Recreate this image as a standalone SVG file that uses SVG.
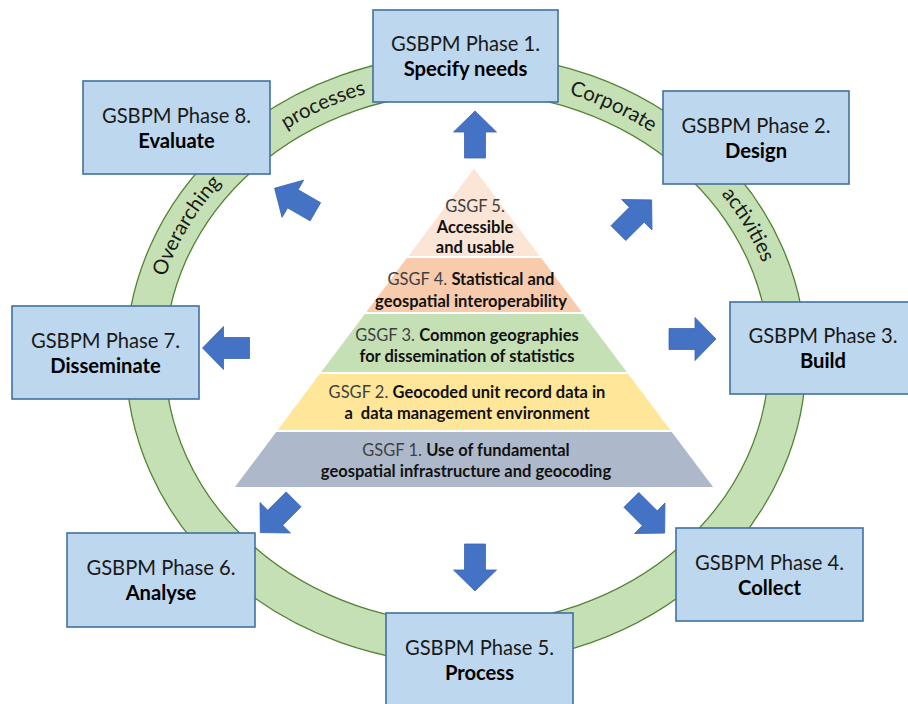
<svg xmlns="http://www.w3.org/2000/svg" width="908" height="704" viewBox="0 0 908 704">
<style>
.box{fill:#bdd7ee;stroke:#41719c;stroke-width:1.6}
.pt{font-family:Lato,"Liberation Sans",sans-serif;font-size:20.2px;fill:#1a1a1a;text-anchor:middle}
.pb{font-weight:bold;fill:#000}
.arr{fill:#4472c4;stroke:#3b65b3;stroke-width:0.8}
.ring{fill:#c5e0b4;stroke:#548235;stroke-width:1.3}
.rt{font-family:Lato,"Liberation Sans",sans-serif;font-size:20.5px;fill:#1a1a1a;text-anchor:middle}
.lay{stroke:#ffffff;stroke-width:2}
.gt{font-family:Lato,"Liberation Sans",sans-serif;font-size:16.5px;text-anchor:middle;fill:#404040}
.gb{font-weight:bold;fill:#111}
</style>
<defs>
<path id="arrow" d="M-23.5,-10.5 H2.5 V-21.5 L23.5,0 L2.5,21.5 V10.5 H-23.5 Z"/>
<path id="ringpath" d="M151.5,358.5 A315,279.5 0 1 1 781.5,358.5 A315,279.5 0 1 1 151.5,358.5"/>
</defs>
<rect width="908" height="704" fill="#ffffff"/>

<g id="ring">
<ellipse class="ring" cx="466" cy="359" rx="340" ry="305"/>
<ellipse cx="467" cy="358" rx="302" ry="266" fill="#ffffff" stroke="#548235" stroke-width="1.3"/>
<text class="rt"><textPath href="#ringpath" startOffset="7.4%">Overarching</textPath></text>
<text class="rt"><textPath href="#ringpath" startOffset="17.2%">processes</textPath></text>
<text class="rt"><textPath href="#ringpath" startOffset="33%">Corporate</textPath></text>
<text class="rt"><textPath href="#ringpath" startOffset="42.6%">activities</textPath></text>
</g>

<g id="pyramid">
<polygon class="lay" fill="#fbe5d6" points="474,167 541.6,257 406.4,257"/>
<polygon class="lay" fill="#f8cbad" points="406.4,257 541.6,257 583.6,313 364.4,313"/>
<polygon class="lay" fill="#c5e0b4" points="364.4,313 583.6,313 628.7,373 319.3,373"/>
<polygon class="lay" fill="#ffe699" points="319.3,373 628.7,373 672.2,431 275.8,431"/>
<polygon class="lay" fill="#adb9ca" points="275.8,431 672.2,431 715,488 233,488"/>
<text class="gt" x="475" y="212">GSGF 5.</text>
<text class="gt gb" x="475" y="233">Accessible</text>
<text class="gt gb" x="475" y="253">and usable</text>
<text class="gt" x="471" y="285">GSGF 4. <tspan class="gb">Statistical and</tspan></text>
<text class="gt gb" x="471" y="307">geospatial interoperability</text>
<text class="gt" x="467" y="341">GSGF 3. <tspan class="gb">Common geographies</tspan></text>
<text class="gt gb" x="467" y="362">for dissemination of statistics</text>
<text class="gt" x="467" y="398">GSGF 2. <tspan class="gb">Geocoded unit record data in</tspan></text>
<text class="gt gb" x="467" y="419" style="white-space:pre">a  data management environment</text>
<text class="gt" x="466" y="456">GSGF 1. <tspan class="gb">Use of fundamental</tspan></text>
<text class="gt gb" x="466" y="477">geospatial infrastructure and geocoding</text>
</g>

<g id="p1"><rect class="box" x="373" y="10" width="185" height="92"/>
<text class="pt" x="465.5" y="51">GSBPM Phase 1.</text><text class="pt pb" x="465.5" y="76">Specify needs</text></g>
<g id="p2"><rect class="box" x="663" y="91" width="186" height="93"/>
<text class="pt" x="756" y="132.5">GSBPM Phase 2.</text><text class="pt pb" x="756" y="157.5">Design</text></g>
<g id="p3"><rect class="box" x="730" y="302" width="186" height="92"/>
<text class="pt" x="823" y="343">GSBPM Phase 3.</text><text class="pt pb" x="823" y="368">Build</text></g>
<g id="p4"><rect class="box" x="676" y="528" width="187" height="93"/>
<text class="pt" x="769.5" y="569.5">GSBPM Phase 4.</text><text class="pt pb" x="769.5" y="594.5">Collect</text></g>
<g id="p5"><rect class="box" x="386" y="613" width="187" height="93"/>
<text class="pt" x="479.5" y="654.5">GSBPM Phase 5.</text><text class="pt pb" x="479.5" y="679.5">Process</text></g>
<g id="p6"><rect class="box" x="67" y="533" width="188" height="94"/>
<text class="pt" x="161" y="575">GSBPM Phase 6.</text><text class="pt pb" x="161" y="600">Analyse</text></g>
<g id="p7"><rect class="box" x="12" y="306" width="187" height="93"/>
<text class="pt" x="105.5" y="347.5">GSBPM Phase 7.</text><text class="pt pb" x="105.5" y="372.5">Disseminate</text></g>
<g id="p8"><rect class="box" x="83" y="81" width="187" height="93"/>
<text class="pt" x="176.5" y="122.5">GSBPM Phase 8.</text><text class="pt pb" x="176.5" y="147.5">Evaluate</text></g>

<g id="connectors">
<use href="#arrow" class="arr" transform="translate(475,134.5) rotate(-90)"/>
<use href="#arrow" class="arr" transform="translate(635,216.5) rotate(-45)"/>
<use href="#arrow" class="arr" transform="translate(692.5,339)"/>
<use href="#arrow" class="arr" transform="translate(648,516.5) rotate(45)"/>
<use href="#arrow" class="arr" transform="translate(475,567.5) rotate(90)"/>
<use href="#arrow" class="arr" transform="translate(277,516) rotate(135)"/>
<use href="#arrow" class="arr" transform="translate(226,348) rotate(180)"/>
<use href="#arrow" class="arr" transform="translate(295,200) rotate(210)"/>
</g>
</svg>
